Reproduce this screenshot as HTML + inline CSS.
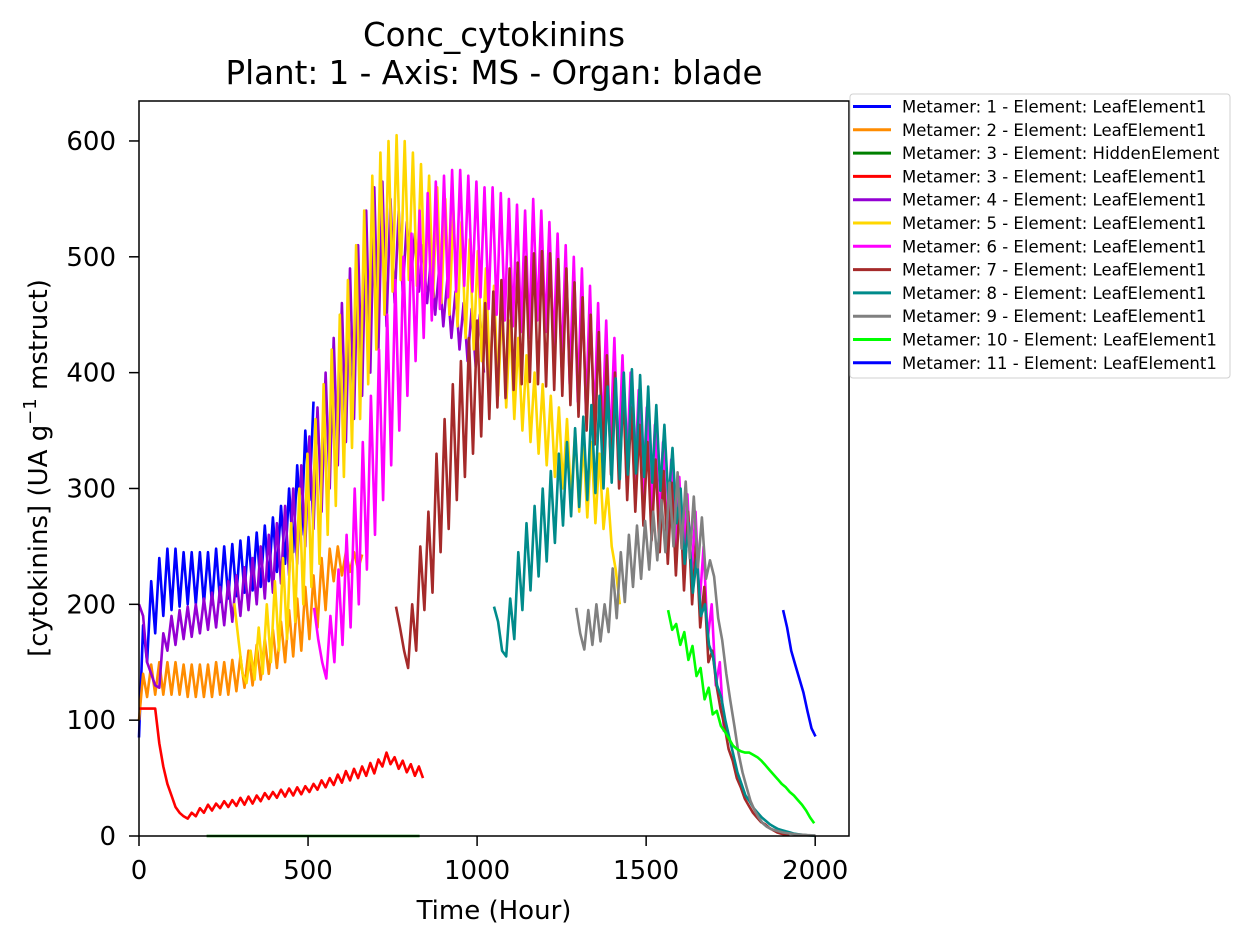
<!DOCTYPE html>
<html><head><meta charset="utf-8"><style>
body{margin:0;background:#fff;}
svg text{font-family:"DejaVu Sans","Liberation Sans",sans-serif;fill:#000;}
</style></head><body>
<svg id="chart" width="1249" height="943" xmlns="http://www.w3.org/2000/svg">
<rect width="1249" height="943" fill="#fff"/>
<text x="494" y="46" font-size="32.5" text-anchor="middle">Conc_cytokinins</text>
<text x="494" y="84" font-size="32.5" text-anchor="middle">Plant: 1 - Axis: MS - Organ: blade</text>
<g id="plot"></g>
<rect x="139" y="101" width="710" height="735" fill="none" stroke="#000" stroke-width="1.5"/>
<g id="axes"></g>
<text x="494" y="919" font-size="26" text-anchor="middle">Time (Hour)</text>
<text transform="translate(47,468) rotate(-90)" font-size="26" text-anchor="middle">[cytokinins] (UA g<tspan font-size="18" dy="-11">−1</tspan><tspan dy="11"> mstruct)</tspan></text>
<g id="legend"></g>
</svg>
<script>
const xTicks=[0,500,1000,1500,2000];
const yTicks=[0,100,200,300,400,500,600];
const seriesNames=["Metamer: 1 - Element: LeafElement1","Metamer: 2 - Element: LeafElement1","Metamer: 3 - Element: HiddenElement","Metamer: 3 - Element: LeafElement1","Metamer: 4 - Element: LeafElement1","Metamer: 5 - Element: LeafElement1","Metamer: 6 - Element: LeafElement1","Metamer: 7 - Element: LeafElement1","Metamer: 8 - Element: LeafElement1","Metamer: 9 - Element: LeafElement1","Metamer: 10 - Element: LeafElement1","Metamer: 11 - Element: LeafElement1"];
const seriesColors=["#0000ff","#ff8c00","#008000","#ff0000","#9400d3","#ffd700","#ff00ff","#a52a2a","#008b8b","#808080","#00ff00","#0000ff"];
const seriesStart=[0,0,200,0,0,282,518,760,1050,1293,1565,1905];
const seriesStep=[12,12,630,12,12,12,12,12,12,12,12,12];
const m1=[85,182,150,220,175,240,190,248,195,248,198,245,200,245,200,245,200,245,200,248,202,250,205,252,207,255,210,258,212,262,215,268,220,275,228,285,235,300,245,320,260,350,290,375];
const m2=[100,140,120,148,122,150,122,150,122,150,122,148,120,148,120,148,120,148,120,150,122,150,122,152,125,155,128,160,130,165,135,170,140,178,145,185,150,195,155,205,160,215,170,225,180,240,195,248,220,250,225,245,228,245,230,243];
const m3h=[0,0];
const m3=[110,110,110,110,110,80,60,45,35,25,20,17,15,20,17,24,20,27,22,28,24,30,25,31,26,33,27,34,28,35,30,37,32,38,33,40,34,41,35,42,36,43,38,45,40,48,42,50,44,53,46,56,48,58,50,60,52,63,54,66,60,72,62,68,58,65,55,62,52,60,50];
const m4=[200,190,150,140,130,128,175,160,190,165,195,170,198,172,200,175,205,178,210,180,215,182,220,185,225,190,232,195,240,200,250,205,260,210,270,218,285,225,300,235,320,250,345,265,370,280,400,300,430,320,460,340,490,360,510,380,540,400,560,420,565,440,550,460,540,470,530,480,520,470,510,460,500,450,490,440,480,430,470,420,460,410,455,405,450,400];
const m5=[201,170,140,132,160,135,180,140,200,150,220,160,240,170,270,185,300,200,330,215,360,235,390,260,420,285,450,310,480,335,510,360,540,390,570,420,590,450,600,470,605,480,600,480,590,475,580,470,570,465,560,460,550,450,540,440,530,430,515,420,505,410,490,395,475,380,460,370,445,360,430,350,415,340,400,330,390,320,380,310,370,300,360,290,350,280,340,275,340,270,330,265,300,250,230,200];
const m6=[197,170,150,136,190,150,230,165,260,180,300,200,340,230,380,260,420,290,450,320,480,350,500,380,520,410,540,430,555,445,565,455,570,465,575,470,575,475,570,470,565,465,560,455,560,450,555,445,550,440,545,435,540,430,550,445,540,435,530,420,520,405,510,390,500,375,490,365,475,355,460,345,445,335,430,320,415,310,400,300,385,290,370,280,355,270,340,260,325,250,310,240,295,225,280,200,250,170,200,130,150,90];
const m7=[198,180,160,145,200,160,250,195,280,210,330,245,360,265,390,290,410,310,430,330,445,345,460,360,470,370,480,378,490,385,495,390,500,392,503,390,505,388,503,385,498,380,490,372,478,362,465,350,450,338,435,325,415,312,400,300,385,290,370,280,355,268,340,255,325,245,315,235,305,225,295,212,280,200,255,180,215,150,160,130,110,95,75,65,50,42,32,26,20,16,12,10,7,5,3,2,1,1];
const m8=[198,185,160,155,205,170,245,195,270,212,285,224,300,237,315,253,330,268,340,276,352,284,362,290,372,296,380,300,388,305,395,308,400,312,403,313,398,310,388,305,372,298,355,288,335,270,300,235,270,210,240,190,200,165,155,130,120,100,85,70,55,45,35,30,24,20,16,13,10,8,6,5,4,3,2,1.5,1,0.7,0.5,0.3];
const m9=[197,175,161,195,165,200,168,200,176,231,188,245,202,260,215,268,222,272,230,280,238,290,245,305,250,314,248,306,240,293,232,275,222,238,224,188,169,140,117,95,72,55,42,30,22,16,11,8,6,5,4,3,2.5,2,1.5,1.2,1,0.8,0.6,0.5];
const m10=[195,178,183,165,176,152,164,138,145,118,128,105,108,95,90,84,78,75,73,72,72,70,68,65,61,57,53,49,45,42,38,35,31,27,22,16,11];
const m11=[195,180,160,148,136,124,108,93,86];
const seriesValues=[m1,m2,m3h,m3,m4,m5,m6,m7,m8,m9,m10,m11];

const X0=139,X1=849,Y0=836,Y1=101,XMAX=2100,YMAX=634.5;
function xs(t){return X0+(t/XMAX)*(X1-X0);}
function ys(v){return Y0-(v/YMAX)*(Y0-Y1);}
const NS="http://www.w3.org/2000/svg";
const plot=document.getElementById('plot');
seriesValues.forEach((vals,i)=>{
  const pts=vals.map((v,j)=>xs(seriesStart[i]+j*seriesStep[i]).toFixed(1)+','+ys(v).toFixed(1)).join(' ');
  const pl=document.createElementNS(NS,'polyline');
  pl.setAttribute('points',pts);
  pl.setAttribute('fill','none');
  pl.setAttribute('stroke',seriesColors[i]);
  pl.setAttribute('stroke-width','2.6');
  pl.setAttribute('stroke-linejoin','round');
  
  
  plot.appendChild(pl);
});
const axes=document.getElementById('axes');
xTicks.forEach(t=>{
  const x=xs(t);
  const l=document.createElementNS(NS,'line');
  l.setAttribute('x1',x);l.setAttribute('x2',x);l.setAttribute('y1',836);l.setAttribute('y2',846);
  l.setAttribute('stroke','#000');l.setAttribute('stroke-width','1.5');
  
  
  axes.appendChild(l);
  const tx=document.createElementNS(NS,'text');
  tx.setAttribute('x',x);tx.setAttribute('y',879);tx.setAttribute('font-size','26');tx.setAttribute('text-anchor','middle');
  tx.textContent=t;
  
  
  axes.appendChild(tx);
});
yTicks.forEach(v=>{
  const y=ys(v);
  const l=document.createElementNS(NS,'line');
  l.setAttribute('x1',129);l.setAttribute('x2',139);l.setAttribute('y1',y);l.setAttribute('y2',y);
  l.setAttribute('stroke','#000');l.setAttribute('stroke-width','1.5');
  
  
  axes.appendChild(l);
  const tx=document.createElementNS(NS,'text');
  tx.setAttribute('x',116);tx.setAttribute('y',y+9);tx.setAttribute('font-size','26');tx.setAttribute('text-anchor','end');
  tx.textContent=v;
  
  
  axes.appendChild(tx);
});
const lg=document.getElementById('legend');
const box=document.createElementNS(NS,'rect');
box.setAttribute('x',850);box.setAttribute('y',94);box.setAttribute('width',380);box.setAttribute('height',284);
box.setAttribute('rx',3);box.setAttribute('fill','#fff');box.setAttribute('stroke','#d0d0d0');


lg.appendChild(box);
seriesNames.forEach((n,i)=>{
  const y=106.5+i*23.3;
  const l=document.createElementNS(NS,'line');
  l.setAttribute('x1',853);l.setAttribute('x2',891);l.setAttribute('y1',y);l.setAttribute('y2',y);
  l.setAttribute('stroke',seriesColors[i]);l.setAttribute('stroke-width','3');
  
  
  lg.appendChild(l);
  const tx=document.createElementNS(NS,'text');
  tx.setAttribute('x',902);tx.setAttribute('y',y+6);tx.setAttribute('font-size','16.5');
  tx.textContent=n;
  
  
  lg.appendChild(tx);
});
</script>
</body></html>
